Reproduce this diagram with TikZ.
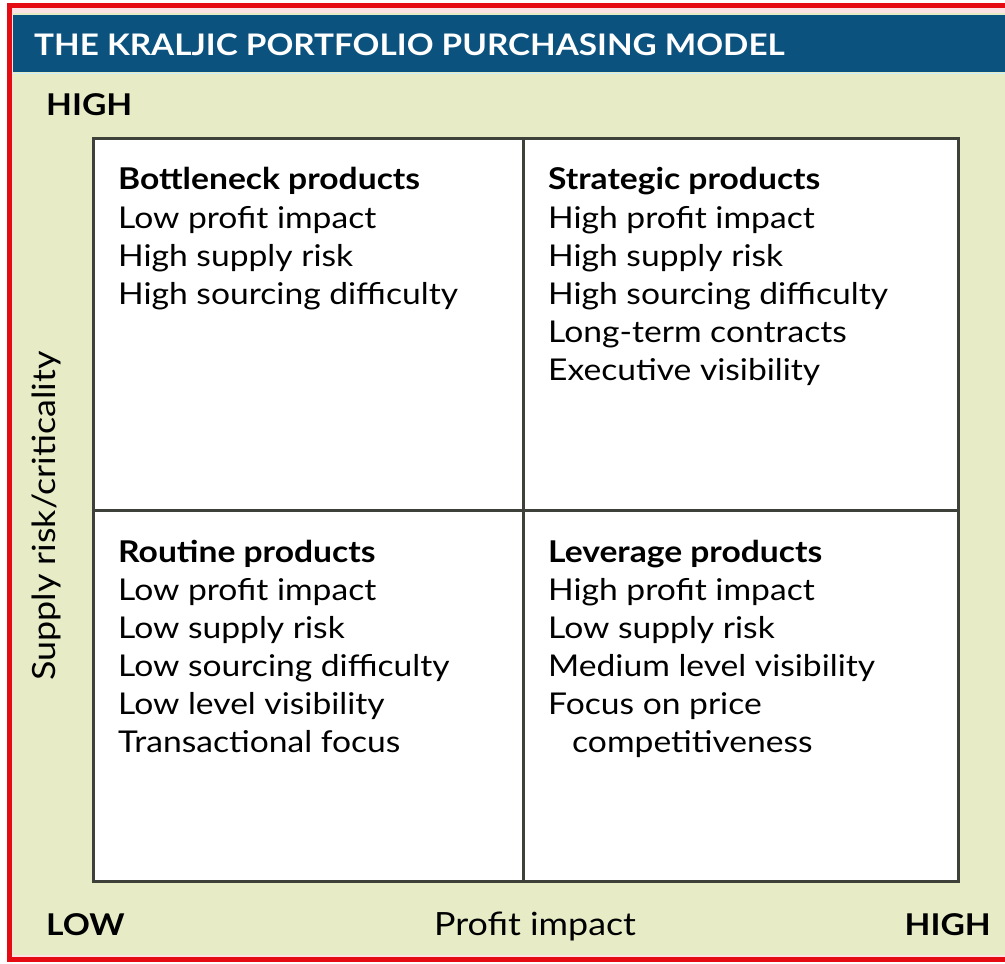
\documentclass[tikz,border=0pt]{standalone}
\usepackage{fontspec}
\setmainfont[FakeStretch=1.12]{Lato}
\usetikzlibrary{positioning}
\definecolor{rahmen}{RGB}{228,12,18}
\definecolor{kopfblau}{RGB}{12,82,126}
\definecolor{creme}{RGB}{231,236,199}
\definecolor{gitter}{RGB}{62,64,58}

\tikzset{
  feld/.style={draw=gitter, line width=3pt, fill=white, outer sep=0pt, anchor=north west},
  kopf/.style={anchor=base west, inner sep=0pt, font=\fontsize{30}{38}\selectfont\bfseries},
  punkt/.style={anchor=base west, inner sep=0pt, font=\fontsize{30}{38}\selectfont},
  achse/.style={inner sep=0pt, anchor=base, font=\fontsize{32}{38}\selectfont},
  stufe/.style={inner sep=0pt, font=\fontsize{30}{38}\selectfont\bfseries},
}

\begin{document}
\begin{tikzpicture}[x=1pt, y=-1pt]
    \useasboundingbox (0,0) rectangle (1005,964);
    \fill[white] (0,0) rectangle (1005,964);

    % red frame, cream sheet and blue header band
    \fill[rahmen] (7,3) rectangle (1005,962);
    \fill[white!88!rahmen] (12,8) rectangle (1005,957);
    \fill[creme] (13,13) rectangle (1005,955);
    \fill[kopfblau] (13,15) rectangle (1005,72);
    \draw[cyan!20, line width=1.5pt] (13,73.5) -- (1005,73.5);
    \node[anchor=base west, inner sep=0pt, text=white, font=\fontsize{29.7}{36}\selectfont\bfseries] (titel) at (34,55) {THE KRALJIC PORTFOLIO PURCHASING MODEL};

    % the four quadrants
    \node[feld, minimum width=430pt, minimum height=372pt] (engpass) at (93,138) {};
    \node[feld, minimum width=435pt, minimum height=372pt] (strategisch) at (523,138) {};
    \node[feld, minimum width=430pt, minimum height=371pt] (routine) at (93,510) {};
    \node[feld, minimum width=435pt, minimum height=371pt] (hebel) at (523,510) {};

    \node[kopf] (engpass-0) at (118,189) {Bottleneck products};
    \foreach \txt [count=\i] in {Low profit impact, High supply risk, High sourcing difficulty}
        \node[punkt] (engpass-\i) at (118,{190+38*\i}) {\txt};

    \node[kopf] (strategisch-0) at (548,189) {Strategic products};
    \foreach \txt [count=\i] in {High profit impact, High supply risk, High sourcing difficulty,
                                 Long-term contracts, Executive visibility}
        \node[punkt] (strategisch-\i) at (548,{190+38*\i}) {\txt};

    \node[kopf] (routine-0) at (118,562) {Routine products};
    \foreach \txt [count=\i] in {Low profit impact, Low supply risk, Low sourcing difficulty,
                                 Low level visibility, Transactional focus}
        \node[punkt] (routine-\i) at (118,{562+38*\i}) {\txt};

    \node[kopf] (hebel-0) at (548,562) {Leverage products};
    \foreach \txt [count=\i] in {High profit impact, Low supply risk, Medium level visibility, Focus on price}
        \node[punkt] (hebel-\i) at (548,{562+38*\i}) {\txt};
    \node[punkt] (hebel-5) at (572,752) {competitiveness};

    % axes
    \node[stufe, anchor=base west] (oben) at (46,115) {HIGH};
    \node[stufe, anchor=base west] (niedrig) at (46,935) {LOW};
    \node[stufe, anchor=base east] (hoch) at (991,935) {HIGH};
    \node[achse] (gewinn) at (535,935) {Profit impact};
    \node[achse, rotate=90] (risiko) at (56,516) {Supply risk/criticality};

\end{tikzpicture}
\end{document}
